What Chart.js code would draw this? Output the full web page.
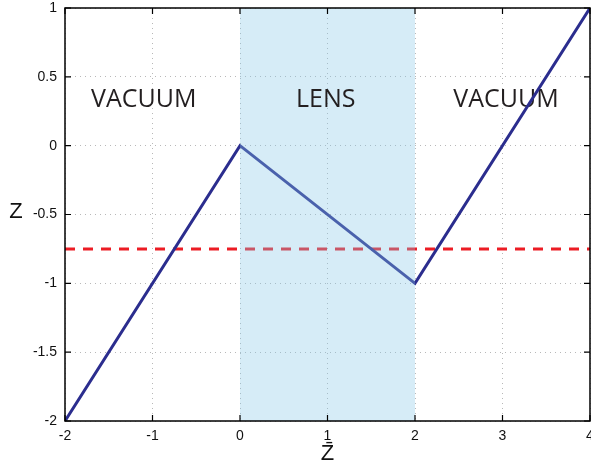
<!DOCTYPE html>
<html><head><meta charset="utf-8">
<script src="https://cdn.jsdelivr.net/npm/chart.js@4/dist/chart.umd.min.js"></script>
<style>html,body{margin:0;padding:0;background:#fff}#wrap{width:591px;height:467px}</style>
</head><body><div id="wrap"><canvas id="c" width="591" height="467"></canvas></div>
<script>
const pathX = [-2, 0, 2, 4];
const pathY = [-2, 0, -1, 1];
const dashX = [-2, 4];
const dashY = [-0.75, -0.75];
const lensRange = [0, 2];
const xTicks = [-2, -1, 0, 1, 2, 3, 4];
const yTicks = [-2, -1.5, -1, -0.5, 0, 0.5, 1];
const regionLabels = ['VACUUM', 'LENS', 'VACUUM'];
const regionX = [-1.1, 0.98, 3.04];
const regionY = 0.33;
const xTitle = 'Z\u0304';
const yTitle = 'Z';

function drawLabels(chart, inLens) {
  const {ctx, scales: {x, y}} = chart;
  ctx.save();
  ctx.fillStyle = '#231f20';
  ctx.font = '25px "Open Sans"';
  ctx.textAlign = 'center'; ctx.textBaseline = 'middle';
  regionLabels.forEach((t, i) => {
    const isLens = regionX[i] >= lensRange[0] && regionX[i] <= lensRange[1];
    if (isLens === inLens) ctx.fillText(t, x.getPixelForValue(regionX[i]), y.getPixelForValue(regionY));
  });
  ctx.restore();
}

const overlay = {
  id: 'overlay',
  beforeDatasetsDraw(chart) { drawLabels(chart, false); },
  afterDatasetsDraw(chart) {
    const {ctx, chartArea: a, scales: {x, y}} = chart;
    ctx.save();
    ctx.fillStyle = 'rgba(135,198,232,0.34)';
    const l = x.getPixelForValue(lensRange[0]), r = x.getPixelForValue(lensRange[1]);
    ctx.fillRect(l, a.top, r - l, a.bottom - a.top);
    ctx.restore();
    drawLabels(chart, true);
    ctx.save();
    ctx.strokeStyle = '#000'; ctx.lineWidth = 1.5;
    ctx.strokeRect(a.left, a.top, a.right - a.left, a.bottom - a.top);
    ctx.lineWidth = 1.2;
    ctx.beginPath();
    xTicks.forEach(v => { const px = x.getPixelForValue(v);
      ctx.moveTo(px, a.bottom); ctx.lineTo(px, a.bottom - 6);
      ctx.moveTo(px, a.top); ctx.lineTo(px, a.top + 6); });
    yTicks.forEach(v => { const py = y.getPixelForValue(v);
      ctx.moveTo(a.left, py); ctx.lineTo(a.left + 6, py);
      ctx.moveTo(a.right, py); ctx.lineTo(a.right - 6, py); });
    ctx.stroke();
    ctx.fillStyle = '#111';
    ctx.font = '22px "Liberation Sans"';
    ctx.textAlign = 'center'; ctx.textBaseline = 'middle';
    ctx.fillText(yTitle, 16, 212);
    ctx.fillText(xTitle, (a.left + a.right) / 2, 454);
    ctx.restore();
  }
};

new Chart(document.getElementById('c'), {
  type: 'scatter',
  data: {
    datasets: [
      { data: pathX.map((v, i) => ({x: v, y: pathY[i]})), showLine: true, borderColor: '#2b2d8e', borderWidth: 3, pointRadius: 0, fill: false, tension: 0 },
      { data: dashX.map((v, i) => ({x: v, y: dashY[i]})), showLine: true, borderColor: '#ec1c24', borderWidth: 3, borderDash: [10, 8], pointRadius: 0, fill: false }
    ]
  },
  options: {
    responsive: false, animation: false,
    layout: { padding: { top: 8, right: 1, left: 0, bottom: 0 } },
    plugins: { legend: { display: false }, tooltip: { enabled: false } },
    scales: {
      x: {
        type: 'linear', min: -2, max: 4,
        afterBuildTicks: s => { s.ticks = xTicks.map(v => ({value: v})); },
        afterFit: s => { s.height = 46; s.paddingLeft = 0; s.paddingRight = 0; },
        grid: { color: '#b8b8b8', lineWidth: 1, drawTicks: false },
        border: { display: false, dash: [1, 4] },
        ticks: { padding: 7, color: '#111', font: { family: 'Liberation Sans', size: 14 }, maxRotation: 0, callback: v => String(v) }
      },
      y: {
        type: 'linear', min: -2, max: 1,
        afterBuildTicks: s => { s.ticks = yTicks.map(v => ({value: v})); },
        afterFit: s => { s.width = 65; s.paddingTop = 0; s.paddingBottom = 0; },
        grid: { color: '#b8b8b8', lineWidth: 1, drawTicks: false },
        border: { display: false, dash: [1, 4] },
        ticks: { padding: 8, color: '#111', font: { family: 'Liberation Sans', size: 14 }, callback: v => String(v) }
      }
    }
  },
  plugins: [overlay]
});
</script></body></html>
